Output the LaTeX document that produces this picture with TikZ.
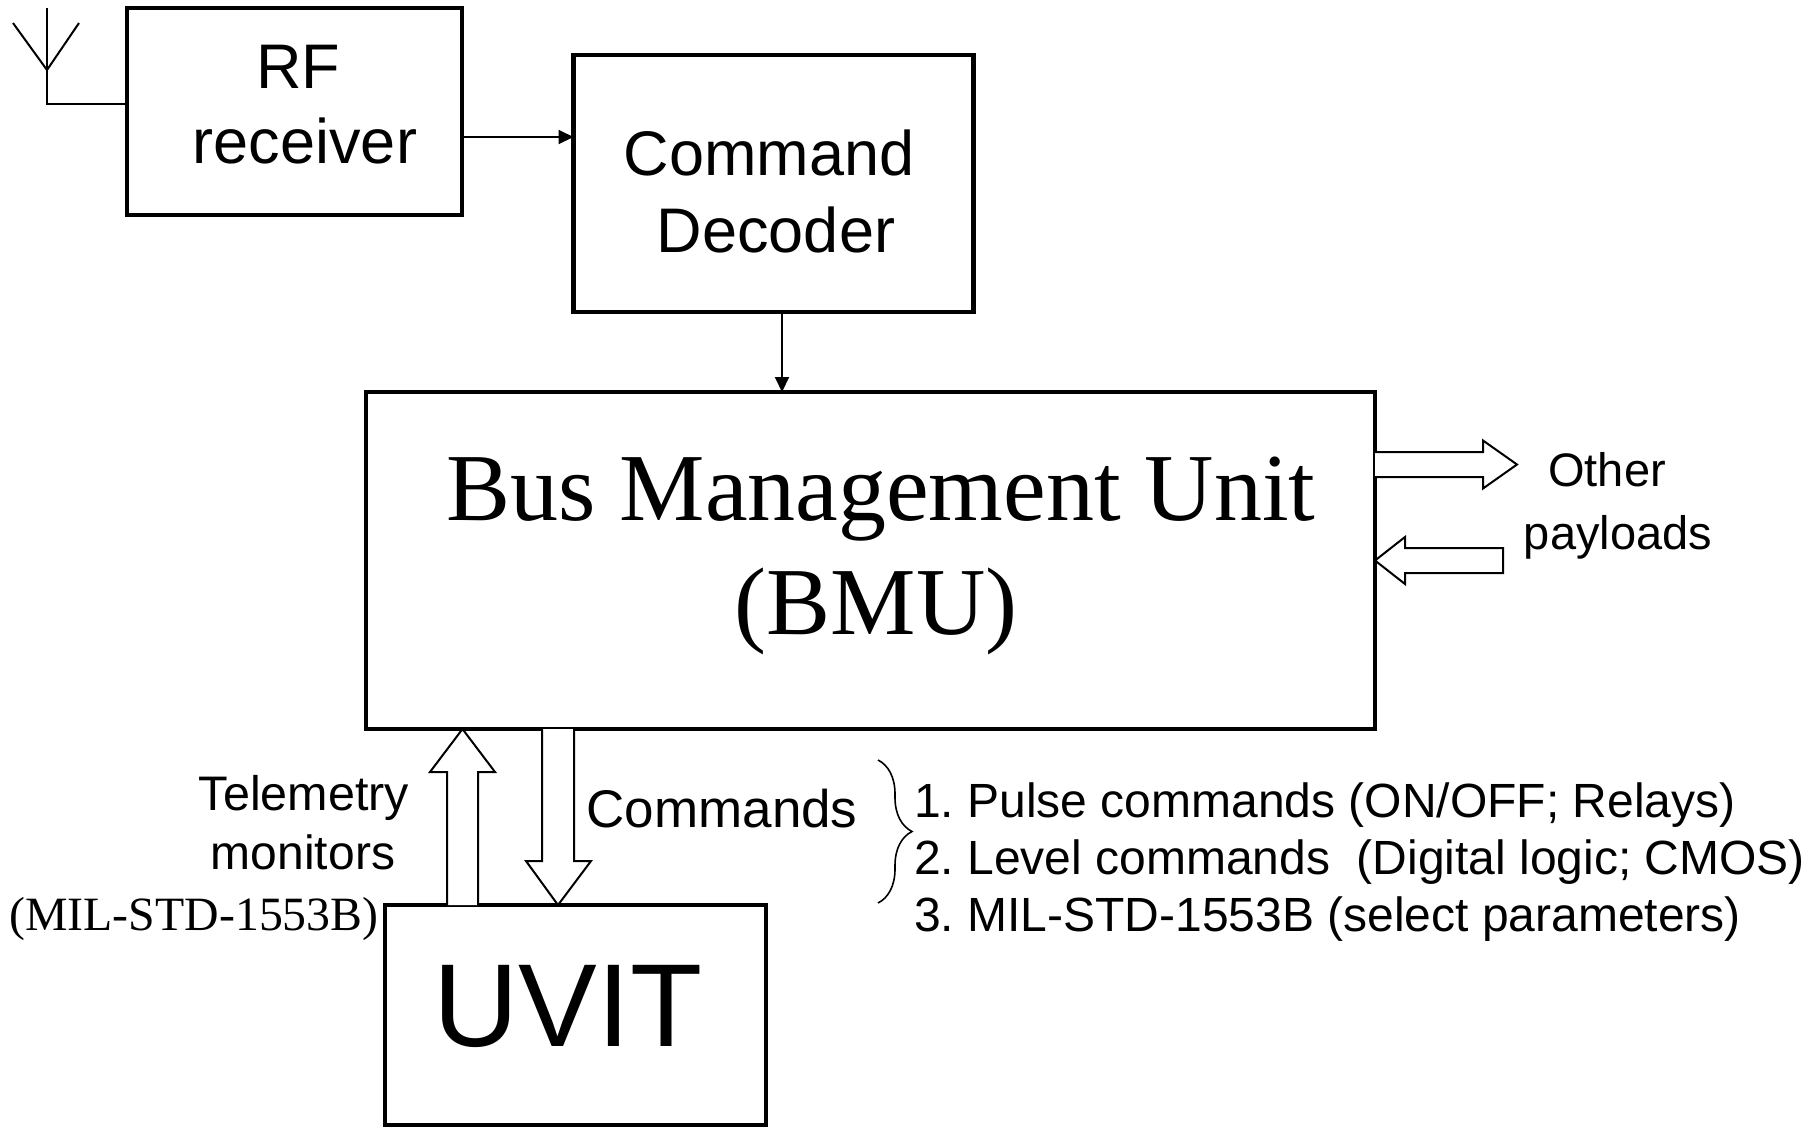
\documentclass[tikz,border=0pt]{standalone}
\usepackage{fontspec}
\setmainfont{Liberation Sans}
\newfontfamily\timesf{Liberation Serif}
\usetikzlibrary{arrows.meta,calc,decorations.pathreplacing}
\begin{document}
\frenchspacing
\begin{tikzpicture}[x=1pt,y=-1pt,
  box/.style={draw,line width=4.5pt,inner sep=0pt,outer sep=0pt},
  lbl/.style={inner sep=0pt,outer sep=0pt,anchor=base},
  lbll/.style={inner sep=0pt,outer sep=0pt,anchor=base west},
  big/.style={font=\fontsize{63}{75}\selectfont},
  mid/.style={font=\fontsize{47}{56}\selectfont},
  listfont/.style={font=\frenchspacing\fontsize{48}{57}\selectfont},
  thinline/.style={line width=2pt},
  conn/.style={line width=2pt,-{Triangle[length=15pt,width=14pt]}},
  hollow/.style={line width=2pt,line join=miter,fill=white}]
\useasboundingbox (0,0) rectangle (1808,1128);

% boxes
\node[box,minimum width=335pt,minimum height=207pt] (rf) at (294.5,111.5) {};
\node[box,minimum width=400pt,minimum height=257pt] (cd) at (773.5,183.5) {};
\node[box,minimum width=1009pt,minimum height=337pt] (bmu) at (870.5,560.5) {};
\node[box,minimum width=381pt,minimum height=220pt] (uvit) at (575.5,1015) {};

% box texts
\node[lbl,big] (rf1) at (298,88) {RF};
\node[lbl,big] (rf2) at (305,163) {receiver};
\node[lbl,big] (cd1) at (769,175) {Command};
\node[lbl,big] (cd2) at (776,252) {Decoder};
\node[lbl,font=\timesf\fontsize{96}{115}\selectfont] (bmu1) at (881,520) {Bus Management Unit};
\node[lbl,font=\timesf\fontsize{96}{115}\selectfont] (bmu2) at (876,634) {(BMU)};
\node[lbl,font=\fontsize{118}{140}\selectfont] (uvitlbl) at (568,1046) {UVIT};

% antenna
\coordinate (antbase) at (47,104);
\coordinate (antjunc) at (47,70);
\coordinate (anttop) at (47,8);
\coordinate (antl) at (13,23);
\coordinate (antr) at (79,23);
\draw[thinline] (rf.west |- antbase) -- (antbase) -- (anttop);
\draw[thinline] (antl) -- (antjunc) -- (antr);

% thin connectors
\coordinate (yrf) at (0,137);
\draw[conn] (rf.east |- yrf) -- (cd.west |- yrf);
\coordinate (xcd) at (782,0);
\draw[conn] (cd.south -| xcd) -- (bmu.north -| xcd);

% hollow arrows to/from other payloads
\coordinate (yout) at (0,464.5);
\coordinate (yin) at (0,560.5);
\draw[hollow] ($(bmu.east |- yout)+(0,-12.5)$) -- (1483,452) -- (1483,440.5) -- (1517,464.5)
  -- (1483,488.5) -- (1483,477) -- ($(bmu.east |- yout)+(0,12.5)$);
\draw[hollow] (bmu.east |- yin) -- (1405,537) -- (1405,548) -- (1503,548) -- (1503,573)
  -- (1405,573) -- (1405,584) -- cycle;
\node[lbl,mid] (oth1) at (1607,486) {Other};
\node[lbl,mid] (oth2) at (1618,549) {payloads};

% hollow arrows between BMU and UVIT
\coordinate (xtel) at (462.5,0);
\coordinate (xcmd) at (558,0);
\draw[hollow] ($(uvit.north -| xtel)+(-15.5,0)$) -- (447,772) -- (430,772) -- (bmu.south -| xtel)
  -- (495,772) -- (478,772) -- ($(uvit.north -| xtel)+(15.5,0)$);
\draw[hollow] ($(bmu.south -| xcmd)+(-16,0)$) -- (542,861) -- (526,861) -- (uvit.north -| xcmd)
  -- (591,861) -- (574,861) -- ($(bmu.south -| xcmd)+(16,0)$);

% labels near lower arrows
\node[lbl,font=\fontsize{48.5}{58}\selectfont] (tel1) at (304,810) {Telemetry};
\node[lbl,font=\fontsize{48}{57}\selectfont] (tel2) at (303,869) {monitors};
\node[lbl,font=\timesf\fontsize{47.8}{57}\selectfont] (tel3) at (194,930) {(MIL-STD-1553B)};
\node[lbl,font=\fontsize{53}{63}\selectfont] (cmdlbl) at (722,827) {Commands};

% brace and list
\coordinate (brtop) at (878,760);
\coordinate (brbot) at (878,903);
\draw[line width=1.6pt,decorate,decoration={brace,amplitude=34pt}] (brtop) -- (brbot);
\node[lbll,listfont] (l1) at (914,817) {1. Pulse commands (ON/OFF; Relays)};
\node[lbll,listfont] (l2) at (914,874) {2. Level commands\ \ (Digital logic; CMOS)};
\node[lbll,listfont] (l3) at (914,931) {3. MIL-STD-1553B (select parameters)};
\end{tikzpicture}
\end{document}
